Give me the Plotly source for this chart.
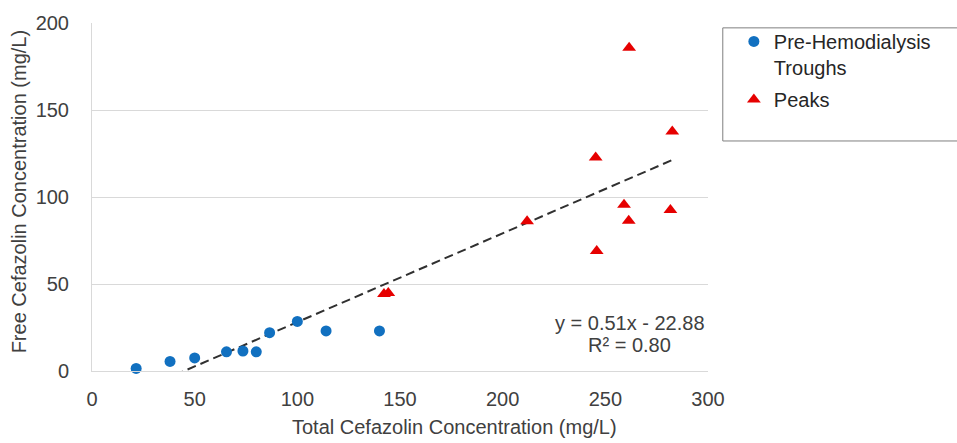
import plotly.graph_objects as go

# Data
troughs_x = [21.5, 38, 50, 65.5, 73.5, 80, 86.5, 100, 114, 140]
troughs_y = [1.5, 5.5, 7.5, 11, 11.5, 11, 22, 28.5, 23, 23]

peaks_x = [142.2, 144.3, 211.9, 245.3, 245.8, 259.1, 261.4, 261.6, 281.7, 282.6]
peaks_y = [44.3, 44.8, 86, 122.7, 69, 95.6, 86.4, 185.8, 92.5, 137.7]

trend_slope = 0.51
trend_intercept = -22.88
trend_r2 = 0.80

x_ticks = [0, 50, 100, 150, 200, 250, 300]
y_ticks = [0, 50, 100, 150, 200]

FONT = "Liberation Sans, Arial, sans-serif"
TXT = "#404040"

all_x = troughs_x + peaks_x
tx = [min(all_x), max(all_x)]
ty = [trend_slope * v + trend_intercept for v in tx]

fig = go.Figure()
fig.add_trace(go.Scatter(
    x=tx, y=ty, mode="lines", showlegend=False, hoverinfo="skip",
    line=dict(color="#303030", width=2, dash="9px,5px"),
))
fig.add_trace(go.Scatter(
    x=troughs_x, y=troughs_y, mode="markers", name="Pre-Hemodialysis<br>Troughs",
    legendgroup="t",
    marker=dict(symbol="circle", size=11, color="#1170C0"),
    cliponaxis=False,
))
fig.add_trace(go.Scatter(
    x=peaks_x, y=peaks_y, mode="markers", name="Peaks",
    legendgroup="p",
    marker=dict(symbol="triangle-up", size=12, color="#E60000"),
    cliponaxis=False,
))

fig.update_layout(
    width=957, height=443,
    margin=dict(l=92, r=249, t=20, b=72),
    paper_bgcolor="white", plot_bgcolor="white",
    font=dict(family=FONT, size=20, color=TXT),
    legend=dict(
        x=1.042, y=1.003, xanchor="left", yanchor="top",
        bgcolor="rgba(0,0,0,0)", borderwidth=0,
        font=dict(family=FONT, size=20, color="#262626"),
        valign="top", itemwidth=30, tracegroupgap=3,
    ),
    xaxis=dict(
        range=[0, 300], tickvals=x_ticks, ticktext=[str(v) for v in x_ticks],
        showgrid=False, zeroline=False, showline=True, linecolor="#D9D9D9", linewidth=1,
        ticks="", ticklabelstandoff=10, tickfont=dict(size=20, color=TXT),
    ),
    yaxis=dict(
        range=[0, 200], tickvals=y_ticks, ticktext=[str(v) for v in y_ticks],
        showgrid=True, gridcolor="#D9D9D9", gridwidth=1,
        zeroline=False, showline=True, linecolor="#D9D9D9", linewidth=1,
        ticks="", ticklabelstandoff=18, tickfont=dict(size=20, color=TXT),
    ),
    shapes=[dict(
        type="rect", xref="paper", yref="paper",
        x0=1.024, x1=1.6, y0=0.661, y1=0.986,
        line=dict(color="#7F7F7F", width=1), fillcolor="rgba(0,0,0,0)",
    )],
    annotations=[
        dict(text="Total Cefazolin Concentration (mg/L)", xref="paper", yref="paper",
             x=0.5885, y=-0.162, xanchor="center", yanchor="middle", showarrow=False,
             font=dict(size=20, color=TXT)),
        dict(text="Free Cefazolin Concentration (mg/L)", xref="paper", yref="paper",
             x=-0.117, y=0.516, xanchor="center", yanchor="middle", showarrow=False,
             textangle=-90, font=dict(size=20, color=TXT)),
        dict(text=f"y = {trend_slope:.2f}x - {abs(trend_intercept):.2f}", xref="paper", yref="paper",
             x=0.873, y=0.1368, xanchor="center", yanchor="middle", showarrow=False,
             font=dict(size=20, color=TXT)),
        dict(text=f"R² = {trend_r2:.2f}", xref="paper", yref="paper",
             x=0.873, y=0.074, xanchor="center", yanchor="middle", showarrow=False,
             font=dict(size=20, color=TXT)),
    ],
)

fig.write_html("out.html")
